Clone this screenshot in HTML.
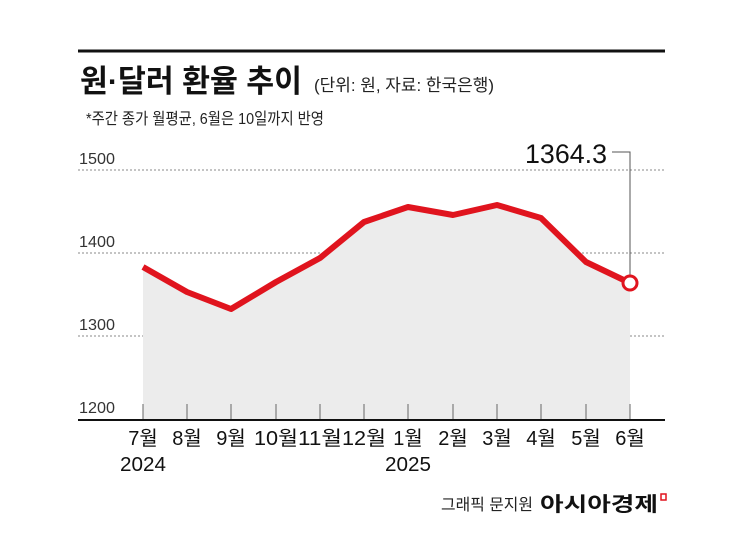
<!DOCTYPE html>
<html><head><meta charset="utf-8"><style>
body{margin:0;background:#fff;}
svg text{font-family:"Liberation Sans","Noto Sans CJK KR",sans-serif;}
</style></head><body>
<svg width="745" height="534" viewBox="0 0 745 534" xmlns="http://www.w3.org/2000/svg">
<rect width="745" height="534" fill="#fff"/>
<line x1="78" y1="51" x2="665" y2="51" stroke="#111" stroke-width="3"/>
<text x="80" y="92" font-size="31" font-weight="bold" fill="#111" textLength="222" lengthAdjust="spacingAndGlyphs">원·달러 환율 추이</text>
<text x="314" y="91" font-size="17" fill="#222" textLength="180" lengthAdjust="spacingAndGlyphs">(단위: 원, 자료: 한국은행)</text>
<text x="86" y="124" font-size="16" fill="#222" textLength="238" lengthAdjust="spacingAndGlyphs">*주간 종가 월평균, 6월은 10일까지 반영</text>
<g stroke="#888" stroke-width="1" stroke-dasharray="2,2">
<line x1="78" y1="170" x2="665" y2="170"/>
<line x1="78" y1="253" x2="665" y2="253"/>
<line x1="78" y1="336" x2="665" y2="336"/>
</g>
<g font-size="16" fill="#333">
<text x="79" y="164" textLength="36" lengthAdjust="spacingAndGlyphs">1500</text>
<text x="79" y="247" textLength="36" lengthAdjust="spacingAndGlyphs">1400</text>
<text x="79" y="330" textLength="36" lengthAdjust="spacingAndGlyphs">1300</text>
<text x="79" y="413" textLength="36" lengthAdjust="spacingAndGlyphs">1200</text>
</g>
<polygon fill="#ececec" points="143,420 143,267 187,292 231,309 276,282 320,258 364,222 408,207 453,215 497,205 541,218 586,262 630,283 630,420"/>
<g stroke="#666" stroke-width="1">
<line x1="143" y1="404" x2="143" y2="420"/><line x1="187" y1="404" x2="187" y2="420"/><line x1="231" y1="404" x2="231" y2="420"/><line x1="276" y1="404" x2="276" y2="420"/><line x1="320" y1="404" x2="320" y2="420"/><line x1="364" y1="404" x2="364" y2="420"/><line x1="408" y1="404" x2="408" y2="420"/><line x1="453" y1="404" x2="453" y2="420"/><line x1="497" y1="404" x2="497" y2="420"/><line x1="541" y1="404" x2="541" y2="420"/><line x1="586" y1="404" x2="586" y2="420"/><line x1="630" y1="404" x2="630" y2="420"/>
</g>
<line x1="78" y1="420" x2="665" y2="420" stroke="#111" stroke-width="2"/>
<polyline fill="none" stroke="#e0141e" stroke-width="6" stroke-linejoin="round" points="143,267 187,292 231,309 276,282 320,258 364,222 408,207 453,215 497,205 541,218 586,262 630,283"/>
<polyline fill="none" stroke="#555" stroke-width="1" points="612,152 630,152 630,276"/>
<circle cx="630" cy="283" r="7" fill="#fff" stroke="#e0141e" stroke-width="3"/>
<text x="525" y="163" font-size="27" fill="#111" textLength="82" lengthAdjust="spacingAndGlyphs">1364.3</text>
<g font-size="20" fill="#111" text-anchor="middle">
<text x="143" y="445">7월</text><text x="187" y="445">8월</text><text x="231" y="445">9월</text><text x="276" y="445" textLength="44" lengthAdjust="spacingAndGlyphs">10월</text><text x="320" y="445" textLength="44" lengthAdjust="spacingAndGlyphs">11월</text><text x="364" y="445" textLength="44" lengthAdjust="spacingAndGlyphs">12월</text><text x="408" y="445">1월</text><text x="453" y="445">2월</text><text x="497" y="445">3월</text><text x="541" y="445">4월</text><text x="586" y="445">5월</text><text x="630" y="445">6월</text>
<text x="143" y="471" textLength="46" lengthAdjust="spacingAndGlyphs">2024</text>
<text x="408" y="471" textLength="46" lengthAdjust="spacingAndGlyphs">2025</text>
</g>
<text x="441" y="510" font-size="16" fill="#222" textLength="92" lengthAdjust="spacingAndGlyphs">그래픽 문지원</text>
<text x="540" y="511" font-size="20" font-weight="bold" fill="#111" textLength="118" lengthAdjust="spacingAndGlyphs">아시아경제</text>
<rect x="661" y="494" width="5" height="6" fill="none" stroke="#e0141e" stroke-width="1.5"/>
</svg>
</body></html>
